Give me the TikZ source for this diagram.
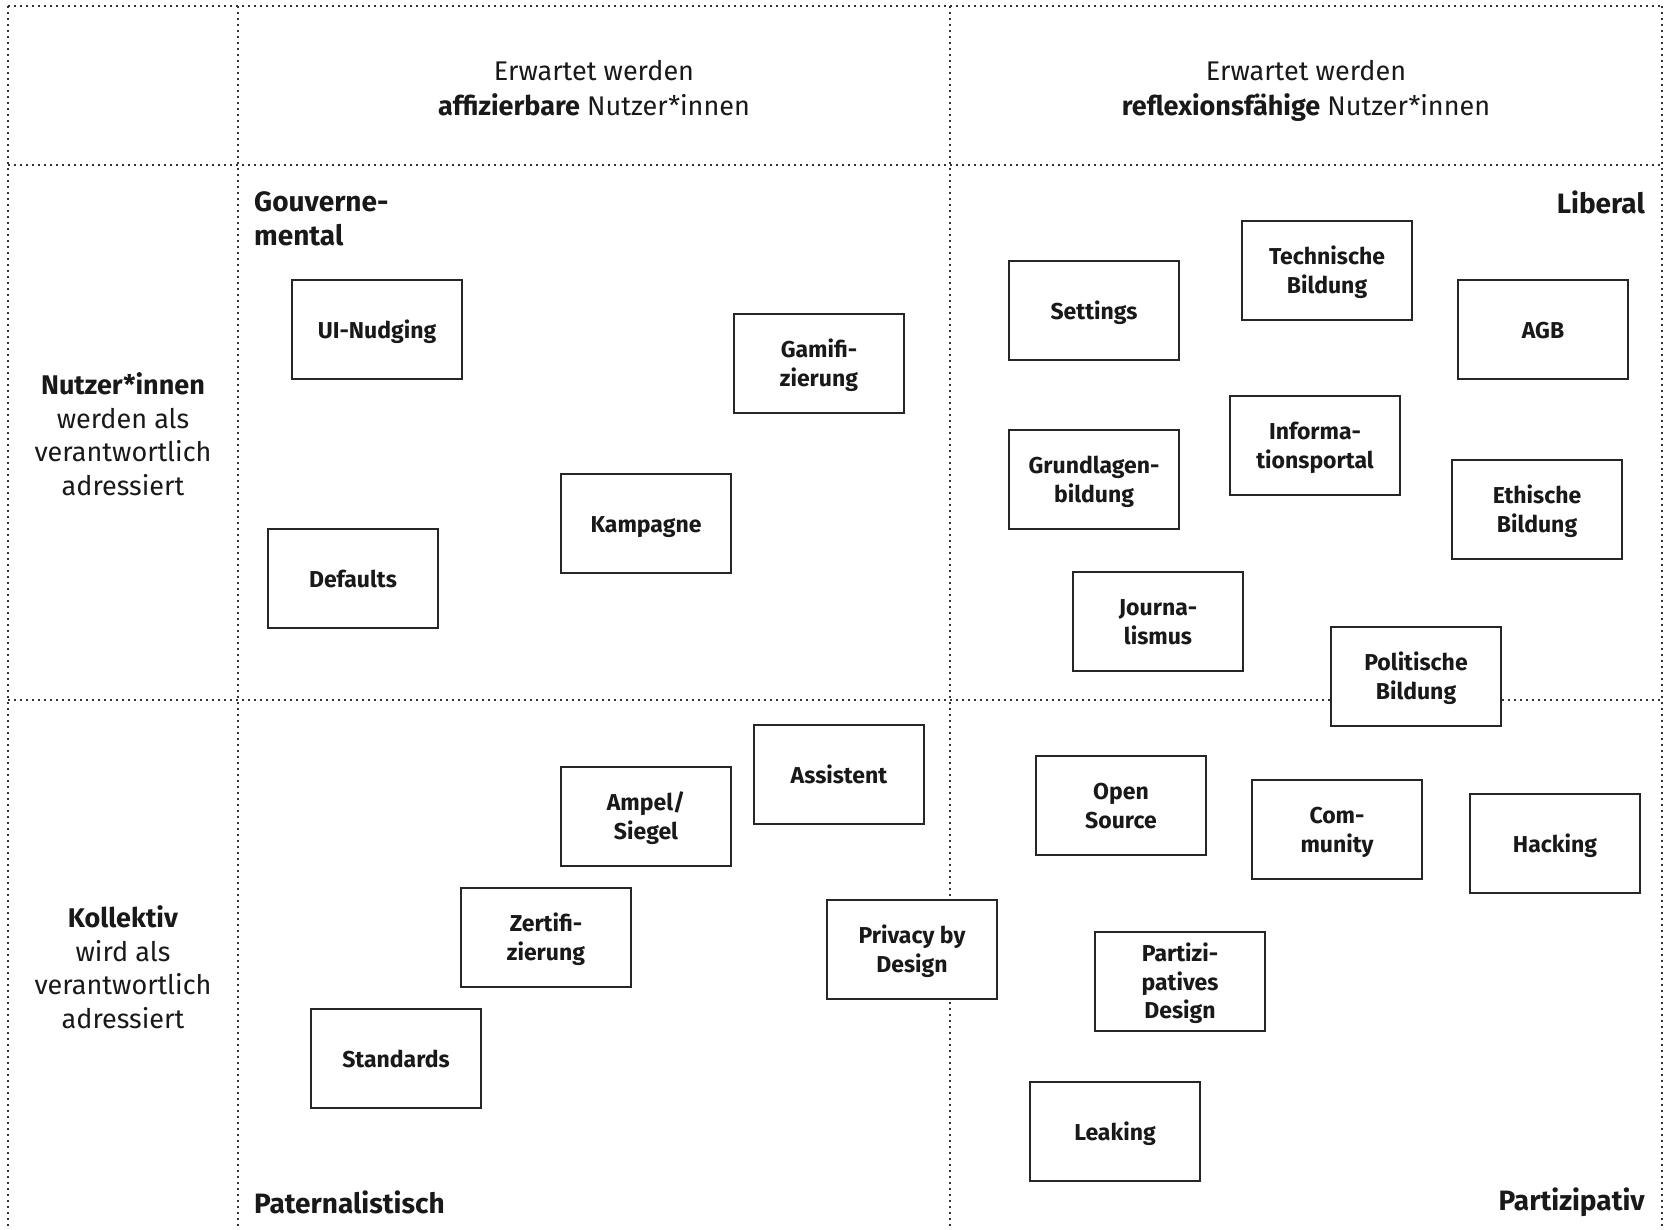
\documentclass[tikz,border=0pt]{standalone}
\usepackage{fontspec}
\setmainfont{Fira Sans}
\newcommand\fstrut{\rule{0pt}{24pt}}
\begin{document}
\begin{tikzpicture}[x=1pt,y=-1pt,
  grid/.style={line width=1.8pt,dash pattern=on 1.8pt off 4.2pt,black!80},
  box/.style={draw=black!85,line width=2pt,fill=white,minimum width=170pt,minimum height=99pt,inner sep=0pt,align=center,font=\bfseries\fontsize{23}{28.5}\selectfont,text=black!90,
    execute at begin node={\rule{0pt}{24pt}},execute at end node={\rule[-6pt]{0pt}{0pt}}},
  mbox/.style={box},
  hdr/.style={anchor=base,font=\fontsize{27}{34}\selectfont,text=black!90},
  side/.style={align=center,font=\fontsize{27}{33.5}\selectfont,text=black!90},
  corner/.style={font=\bfseries\fontsize{28}{34}\selectfont,text=black!90,inner sep=0pt}]
\useasboundingbox (0,0) rectangle (1665,1229);
\fill[white] (0,0) rectangle (1665,1229);
% grid
\coordinate (tl) at (8,6);
\coordinate (tr) at (1662,6);
\coordinate (bl) at (8,1229);
\coordinate (br) at (1662,1229);
\coordinate (v1t) at (238,6);
\coordinate (v1b) at (238,1229);
\coordinate (v2t) at (950,6);
\coordinate (v2b) at (950,1229);
\coordinate (h1l) at (8,165);
\coordinate (h1r) at (1662,165);
\coordinate (h2l) at (8,700);
\coordinate (h2r) at (1662,700);
\draw[grid] (tl) -- (tr);
\draw[grid] (tl) -- (bl);
\draw[grid] (tr) -- (br);
\draw[grid] (v1t) -- (v1b);
\draw[grid] (v2t) -- (v2b);
\draw[grid] (h1l) -- (h1r);
\draw[grid] (h2l) -- (h2r);
% headers
\node[hdr] (hA1) at (594,80) {Erwartet werden};
\node[hdr] (hA2) at (594,115) {\textbf{affizierbare} Nutzer*innen};
\node[hdr] (hB1) at (1306,80) {Erwartet werden};
\node[hdr] (hB2) at (1306,115) {\textbf{reflexionsfähige} Nutzer*innen};
% side labels
\node[side] (sA) at (123,434) {\textbf{Nutzer*innen}\\werden als\\verantwortlich\\adressiert};
\node[side] (sB) at (123,967) {\textbf{Kollektiv}\\wird als\\verantwortlich\\adressiert};
% corners
\node[corner,anchor=west,align=left] (cGov) at (254,219) {Gouverne-\\mental};
\node[corner,anchor=east] (cLib) at (1645,202) {Liberal};
\node[corner,anchor=west] (cPat) at (254,1202) {Paternalistisch};
\node[corner,anchor=east] (cPar) at (1645,1202) {Partizipativ};
% boxes
\node[box] (ui) at (377,329) {UI-Nudging};
\node[mbox] (gam) at (819,363) {\fstrut Gamifi-\\zierung};
\node[box] (kam) at (646,523) {Kampagne};
\node[box] (def) at (353,578) {Defaults};
\node[box] (set) at (1094,310) {Settings};
\node[mbox] (tec) at (1327,270) {\fstrut Technische\\Bildung};
\node[box] (agb) at (1543,329) {AGB};
\node[mbox] (gru) at (1094,479) {\fstrut Grundlagen-\\bildung};
\node[mbox] (inf) at (1315,445) {\fstrut Informa-\\tionsportal};
\node[mbox] (eth) at (1537,509) {\fstrut Ethische\\Bildung};
\node[mbox] (jou) at (1158,621) {\fstrut Journa-\\lismus};
\node[mbox] (pol) at (1416,676) {\fstrut Politische\\Bildung};
\node[box] (ass) at (839,774) {Assistent};
\node[mbox] (amp) at (646,816) {\fstrut Ampel/\\Siegel};
\node[mbox] (zer) at (546,937) {\fstrut Zertifi-\\zierung};
\node[mbox] (pri) at (912,949) {\fstrut Privacy by\\Design};
\node[box] (sta) at (396,1058) {Standards};
\node[mbox] (ope) at (1121,805) {\fstrut Open\\Source};
\node[mbox] (com) at (1337,829) {\fstrut Com-\\munity};
\node[box] (hac) at (1555,843) {Hacking};
\node[mbox] (par) at (1180,981) {\fstrut Partizi-\\patives\\Design};
\node[box] (lea) at (1115,1131) {Leaking};
\end{tikzpicture}
\end{document}
